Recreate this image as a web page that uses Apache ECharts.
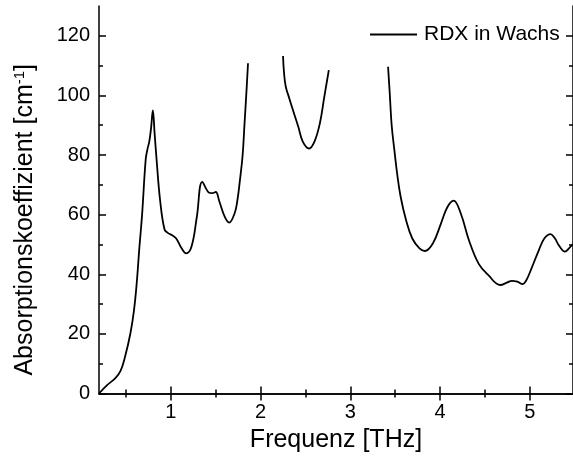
<!DOCTYPE html>
<html>
<head>
<meta charset="utf-8">
<script src="https://cdn.jsdelivr.net/npm/echarts@6/dist/echarts.min.js"></script>
<style>
  html, body { margin: 0; padding: 0; background: #fff; }
  #chart { width: 573px; height: 466px; }
</style>
</head>
<body>
<div id="chart"></div>
<script>
// Frequenz in THz, null = keine Daten (Bereich über ~110 cm^-1)
const freq = [
  0.20, 0.29, 0.38, 0.44, 0.49, 0.55, 0.59, 0.62, 0.65, 0.68, 0.72, 0.74, 0.76, 0.78, 0.80,
  0.82, 0.84, 0.88, 0.93, 0.97, 1.01, 1.06, 1.12, 1.17, 1.23, 1.29, 1.35, 1.42, 1.46, 1.50,
  1.54, 1.60, 1.65, 1.71, 1.74, 1.77, 1.80, 1.82, 1.84, 1.86,
  2.00,
  2.25, 2.26, 2.28, 2.32, 2.36, 2.42, 2.47, 2.54, 2.60, 2.66, 2.71, 2.76,
  3.10,
  3.42, 3.44, 3.46, 3.49, 3.52, 3.56, 3.62, 3.69, 3.77, 3.83, 3.92, 4.01, 4.08, 4.15, 4.23,
  4.32, 4.43, 4.54, 4.67, 4.75, 4.80, 4.86, 4.92, 4.96, 5.01, 5.10, 5.16, 5.23, 5.28, 5.32,
  5.39, 5.45, 5.48
]
const absorption = [
  0, 2.8, 5.1, 7.6, 12.3, 20.2, 28, 37, 49, 60, 78.5, 82, 84.5, 89, 95,
  87, 79, 65, 55, 53.8, 53.2, 52, 48.7, 47, 49.2, 59.3, 71, 67.5, 67.2, 67.6,
  64.5, 59.3, 57.3, 60.4, 64.5, 71.6, 80, 90, 100, 110.8,
  null,
  113.2, 108, 103, 99, 95.1, 89.5, 84.5, 82.2, 84.5, 90.6, 99.6, 108.5,
  null,
  109.6, 100, 90, 81.7, 74, 66, 58.2, 52, 48.7, 47.8, 50.4, 57.1, 62.5, 64.7, 60.4,
  51.5, 43.5, 39.6, 36.4, 37.3, 37.8, 37.5, 36.7, 38, 41.4, 48.1, 52, 53.5, 52, 49.8,
  47.6, 49.2, 50.2
]

const xMajor = [1, 2, 3, 4, 5]
const xMinor = [0.5, 1.5, 2.5, 3.5, 4.5]
const yMajor = [0, 20, 40, 60, 80, 100, 120]
const yMinor = [10, 30, 50, 70, 90, 110]

const xMin = 0.2, xMax = 5.48
const yMin = 0, yMax = 130

const font = 'Liberation Sans, Arial, sans-serif'
const axisLine = { show: true, lineStyle: { color: '#000', width: 1.5 } }

function tickAxis(position, values, len, showLine, isX) {
  return {
    type: 'value',
    position: position,
    min: isX ? xMin : yMin,
    max: isX ? xMax : yMax,
    axisLine: showLine ? axisLine : { show: false },
    axisTick: { show: true, inside: true, length: len, customValues: values,
      lineStyle: { color: '#000', width: 1.5 } },
    axisLabel: { show: false },
    splitLine: { show: false }
  }
}

const chart = echarts.init(document.getElementById('chart'))

const data = freq.map((f, i) => [f, absorption[i] === null ? '-' : absorption[i]])

const bottomAxis = tickAxis('bottom', xMajor, 7, true, true)
bottomAxis.axisLabel = {
  show: true, customValues: xMajor, color: '#000', fontSize: 20, fontFamily: font, margin: 9
}
bottomAxis.name = 'Frequenz [THz]'
bottomAxis.nameLocation = 'middle'
bottomAxis.nameGap = 33
bottomAxis.nameTextStyle = { color: '#000', fontSize: 25, fontFamily: font }

const leftAxis = tickAxis('left', yMajor, 7, true, false)
leftAxis.axisLabel = {
  show: true, customValues: yMajor, color: '#000', fontSize: 20, fontFamily: font, margin: 9
}
leftAxis.name = '{a|Absorptionskoeffizient [cm}{s|-1}{a|]}'
leftAxis.nameLocation = 'middle'
leftAxis.nameGap = 60
leftAxis.nameTextStyle = {
  color: '#000', fontFamily: font, padding: [0, 40, 0, 0],
  rich: {
    a: { fontSize: 25, fontFamily: font, color: '#000' },
    s: { fontSize: 15, fontFamily: font, color: '#000', padding: [0, 0, 12, 0] }
  }
}

chart.setOption({
  animation: false,
  textStyle: { fontFamily: font },
  grid: { left: 99, top: 6, right: -1, bottom: 72.5 },
  legend: {
    left: 365,
    top: 19,
    icon: 'rect',
    itemWidth: 47,
    itemHeight: 1.8,
    itemGap: 0,
    itemStyle: { color: '#000' },
    textStyle: { color: '#000', fontSize: 21, fontFamily: font, padding: [0, 0, 0, 2] },
    data: ['RDX in Wachs']
  },
  xAxis: [
    bottomAxis,
    tickAxis('bottom', xMinor, 4, false, true),
    tickAxis('top', xMajor, 7, true, true),
    tickAxis('top', xMinor, 4, false, true)
  ],
  yAxis: [
    leftAxis,
    tickAxis('left', yMinor, 4, false, false),
    tickAxis('right', yMajor, 7, true, false),
    tickAxis('right', yMinor, 4, false, false)
  ],
  series: [{
    name: 'RDX in Wachs',
    type: 'line',
    xAxisIndex: 0,
    yAxisIndex: 0,
    data: data,
    showSymbol: false,
    symbol: 'none',
    smooth: 0.4,
    connectNulls: false,
    lineStyle: { color: '#000', width: 1.8 },
    itemStyle: { color: '#000' }
  }]
})
</script>
</body>
</html>
